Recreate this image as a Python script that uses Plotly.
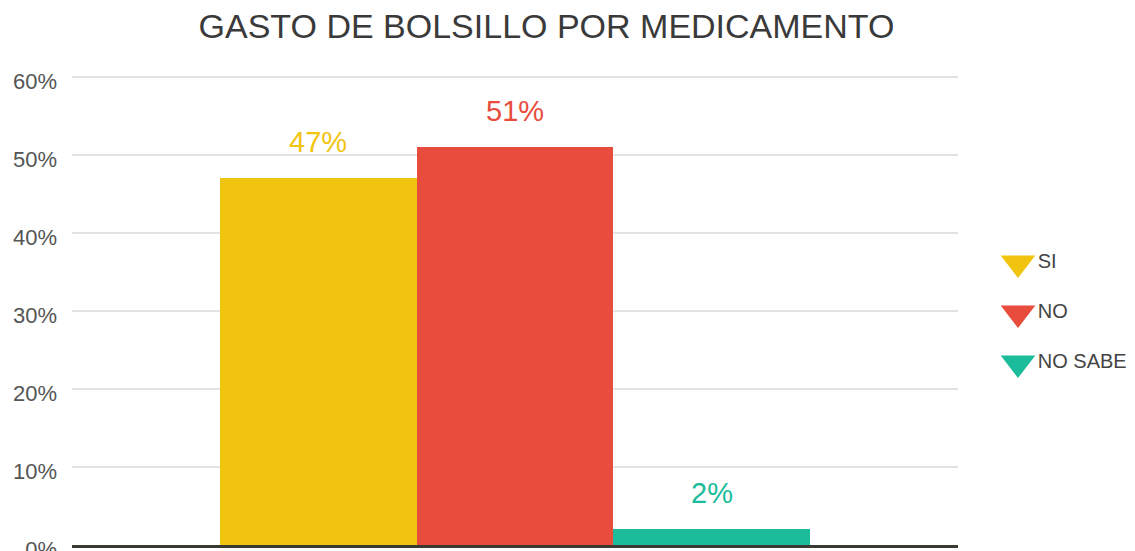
import plotly.graph_objects as go

categories = ["SI", "NO", "NO SABE"]
values = [47, 51, 2]
labels = ["47%", "51%", "2%"]
colors = ["#F1C40F", "#E74C3C", "#1ABC9C"]
tick_vals = [0, 10, 20, 30, 40, 50, 60]
tick_text = ["0%", "10%", "20%", "30%", "40%", "50%", "60%"]
title_text = "GASTO DE BOLSILLO POR MEDICAMENTO"

FONT = "Liberation Sans, Arial, sans-serif"
W, H = 1135, 551
ML = 72
MT = 73
plot_w = 886
paper_w = W - ML
plot_h = H - 6 - MT

fig = go.Figure()

for cat, val, col in zip(categories, values, colors):
    fig.add_trace(go.Bar(
        x=[cat], y=[val], name=cat, marker=dict(color=col, line=dict(width=0)),
        width=1, showlegend=False, hoverinfo="skip",
        xaxis="x", yaxis="y",
    ))

for cat, val, lab, col in zip(categories, values, labels, colors):
    fig.add_annotation(
        x=cat, y=val, xref="x", yref="y", text=lab, showarrow=False,
        yanchor="bottom", yshift=18,
        font=dict(family=FONT, size=29, color=col),
    )

# custom legend with triangle-down markers
fig.add_trace(go.Scatter(
    x=[0] * len(categories), y=categories, mode="markers+text",
    text=categories, textposition="middle right",
    marker=dict(symbol="triangle-down", size=30, color=colors, line=dict(width=0)),
    textfont=dict(family=FONT, size=20, color="#444444"),
    showlegend=False, hoverinfo="skip", xaxis="x2", yaxis="y2", cliponaxis=False,
))

rt = -(263 - MT) / 50
rb = rt + plot_h / 50

fig.update_layout(
    width=W, height=H,
    margin=dict(l=ML, r=0, t=MT, b=6),
    paper_bgcolor="white", plot_bgcolor="white",
    barmode="overlay", bargap=0,
    title=dict(text=title_text, x=546.5 / W, xref="container", xanchor="center",
               y=1 - 26 / H, yref="container", yanchor="middle",
               font=dict(family=FONT, size=34, color="#3a3a3a")),
    xaxis=dict(domain=[0, plot_w / paper_w], type="category",
               categoryorder="array", categoryarray=categories,
               range=[-1.25, 3.25], showticklabels=False, showgrid=False,
               zeroline=False, showline=True, linecolor="#3a3a32", linewidth=3,
               ticks="", automargin=False),
    yaxis=dict(range=[0, plot_h / 7.8], tickvals=tick_vals, ticktext=tick_text,
               showgrid=True, gridcolor="#e3e3e3", gridwidth=2, zeroline=False,
               showline=False, ticks="", ticklabelstandoff=14, ticklabelshift=4,
               ticklabeloverflow="allow", automargin=False,
               tickfont=dict(family=FONT, size=22, color="#555555")),
    xaxis2=dict(domain=[(1003 - ML) / paper_w, 1], range=[-15, 117],
                visible=False, anchor="y2", automargin=False),
    yaxis2=dict(domain=[0, 1], type="category", categoryorder="array",
                categoryarray=categories, range=[rb, rt],
                visible=False, anchor="x2", automargin=False),
)

fig.write_html("out.html", config={"displayModeBar": False},
               post_script="document.body.style.margin='0';document.body.style.padding='0';")
